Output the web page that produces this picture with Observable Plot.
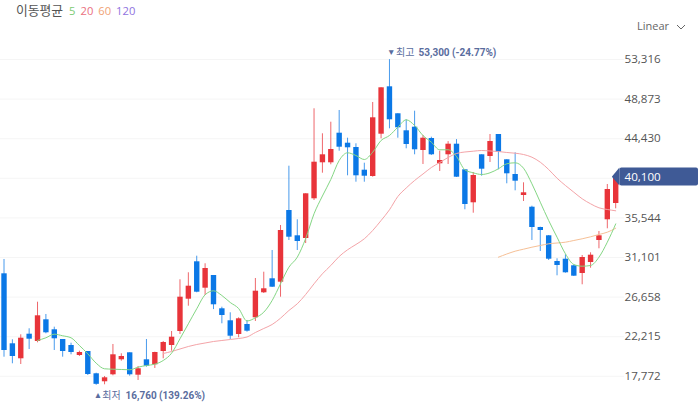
<!DOCTYPE html>
<html><head><meta charset="utf-8">
<script src="https://cdn.jsdelivr.net/npm/d3@7"></script>
<script src="https://cdn.jsdelivr.net/npm/@observablehq/plot@0.6"></script>
<style>
html,body{margin:0;padding:0;background:#fff;overflow:hidden}
#wrap{position:relative;width:700px;height:407px}
#legend{position:absolute;left:16px;top:1px;font:11.2px/18px "Open Sans",sans-serif;white-space:nowrap}
#legend b{font:400 12.8px/18px "Noto Sans CJK KR",sans-serif;letter-spacing:0;color:#555;margin-right:6px}
#legend span{margin-right:5px}
#scale{position:absolute;left:637px;top:17px;font:11px/18px "Open Sans",sans-serif;color:#666}
#scale svg{position:absolute;left:39px;top:7px}
</style></head><body>
<div id="wrap">
<div id="legend"><b>이동평균</b></div>
<div id="scale">Linear<svg width="10" height="6" viewBox="0 0 10 6"><path d="M1 1L5 5L9 1" fill="none" stroke="#666" stroke-width="1"/></svg></div>
</div>
<script>
const open = [29271,21418,19735,22495,21676,24110,22989,21900,21227,20105,20554,18052,17155,17939,19623,20408,17895,19623,19062,20554,21227,22798,26422,30618,27656,29081,25345,23999,22461,23583,24335,27140,28711,28329,36374,33535,33232,37687,41726,41726,45047,43925,43443,40895,40189,44935,50253,47226,45316,45720,43106,44452,41614,42624,43813,40940,37238,42624,42433,44901,42062,40413,38057,36744,34467,33535,30652,30910,30170,29305,30540,33008,35331,37159];
const close = [20666,19993,22046,21934,24559,22652,21979,20554,20442,20442,17973,16870,17603,20183,19993,17939,18614,18905,20442,21564,22158,26646,27880,27207,29867,25794,24593,22271,24223,22832,27319,27589,27768,34130,33378,32896,38248,41793,42623,43218,43476,43409,40267,40222,46775,50141,46550,45653,43779,43185,44486,42624,41984,43813,40110,37047,40301,41008,44116,42915,40492,39661,38360,34467,34130,30910,30203,29384,29003,31101,31359,33535,38730,40100];
const high = [30876,21867,22428,23101,26085,24705,23280,21900,21485,20587,20554,18119,17749,21339,20296,20408,18872,21900,20475,21676,22798,28599,29384,31246,30394,29081,25524,24896,24335,24032,28744,29451,31886,34691,41344,35331,38248,47785,44980,46281,47594,44486,43858,41680,48492,50141,53300,47226,46550,47515,44789,44598,43027,44105,44330,40940,40638,42624,44901,44901,42062,42848,39482,36856,34501,33569,30955,31404,30237,31325,31628,34018,39291,40100];
const low = [19914,19174,19095,20778,21530,22540,20666,19914,20184,19993,17861,16760,16819,17827,19466,17782,17300,18793,18647,19735,20587,22461,25636,27140,26837,25254,23662,21900,22091,22720,23920,27061,27734,26646,33008,31886,32671,37496,40559,41502,43027,40267,39549,39549,40110,44419,45540,44486,43297,42624,41536,42545,40750,41536,40077,36453,36071,40222,41760,40940,39370,38584,37384,33008,31774,30764,29047,29339,28969,28038,29900,32077,34321,36565];
const ma5Start = 4;
const ma5 = [21788,22091,22495,22316,22091,21227,20296,19242,18614,18569,18535,18502,18794,18984,19129,19544,20363,21979,23662,25345,26916,27364,26837,26052,25378,23976,24335,24963,26276,28150,30012,31134,33232,36004,38001,39852,41985,42848,42545,42096,42915,44228,44789,45720,46550,45911,44789,44037,43185,43185,42433,40940,40604,40413,40604,41053,41614,41726,41120,39370,37305,35251,33378,31516,30316,30125,30203,31134,32817,34870];
const ma20Start = 19;
const ma20 = [20329,20554,20835,21115,21339,21508,21676,21788,21900,22013,22181,22686,23135,23584,24290,25154,25905,26949,28150,29272,30203,31213,31965,32559,33199,34130,35251,36452,37945,38899,39740,40469,41198,41760,42321,42770,42938,43027,43106,43050,42994,42882,42803,42657,42354,41793,40974,39998,39179,38427,37687,37126,36677,36486,36340];
const ma60Start = 59;
const ma60 = [31134,31493,31807,32032,32256,32447,32637,32727,32817,33008,33199,33423,33681,33939,34388];
const axisTicks = [53316,48873,44430,35544,31101,26658,22215,17772];
const gridTicks = [53316,48873,44430,39987,35544,31101,26658,22215,17772];
const lastPrice = 40100;
const legendItems = [["5","#7ccb74"],["20","#ea6f80"],["60","#f0a276"],["120","#8f72e0"]];
const hiIdx = 46, hiVal = 53300, hiText = "53,300 (-24.77%)", hiWord = "최고";
const loIdx = 11, loVal = 16760, loText = "16,760 (139.26%)", loWord = "최저";

const RED = "#e8343a", BLUE = "#0b78e6", ANNO = "#5a6d9e", TAG = "#3f5a96";
const rows = open.map((o,i)=>({i,open:o,close:close[i],high:high[i],low:low[i]}));
const up = rows.filter(d=>d.close>d.open), down = rows.filter(d=>d.close<=d.open);
const series = (a,s)=>a.map((v,k)=>({i:k+s,v}));
const tip = [{x:72.6,y1:lastPrice,y2:lastPrice},{x:73.5,y1:39130,y2:41130}];

const legend = document.getElementById("legend");
legendItems.forEach(([t,c])=>{const s=document.createElement("span");s.textContent=t;s.style.color=c;legend.appendChild(s)});

const chart = Plot.plot({
  width:700,height:407,marginLeft:0,marginRight:76,marginTop:0,marginBottom:0,
  style:{background:"#fff",fontFamily:'"Open Sans",sans-serif'},
  x:{type:"linear",domain:[-0.418,74.05],axis:null},
  y:{type:"linear",domain:[14270,59936],grid:false,label:null},
  marks:[
    Plot.ruleY(gridTicks,{stroke:"#f5f5f5",strokeWidth:1}),
    Plot.axisY(axisTicks,{anchor:"right",tickSize:0,tickPadding:0,textAnchor:"start",tickFormat:d3.format(","),label:null,fill:"#555",fontSize:11.6}),
    Plot.ruleX(up,{x:"i",y1:"low",y2:"high",stroke:RED,strokeWidth:1,strokeOpacity:.75}),
    Plot.ruleX(down,{x:"i",y1:"low",y2:"high",stroke:BLUE,strokeWidth:1,strokeOpacity:.75}),
    Plot.ruleX(up,{x:"i",y1:"open",y2:"close",stroke:RED,strokeWidth:5.4}),
    Plot.ruleX(down,{x:"i",y1:"open",y2:"close",stroke:BLUE,strokeWidth:5.4}),
    Plot.line(series(ma60,ma60Start),{x:"i",y:"v",stroke:"#f6c096",strokeWidth:1,curve:"monotone-x"}),
    Plot.line(series(ma20,ma20Start),{x:"i",y:"v",stroke:"#f4a4a8",strokeWidth:1,curve:"monotone-x"}),
    Plot.line(series(ma5,ma5Start),{x:"i",y:"v",stroke:"#84d684",strokeWidth:1,curve:"monotone-x"}),
    Plot.area(tip,{x1:"x",y1:"y1",y2:"y2",fill:TAG,curve:"linear"}),
    Plot.rect([{x1:73.5,x2:82.88,y1:39130,y2:41130}],{x1:"x1",x2:"x2",y1:"y1",y2:"y2",fill:TAG,r:2}),
    Plot.text([lastPrice],{x:74.05,y:d=>d,text:d=>d3.format(",")(d),textAnchor:"start",fill:"#fff",fontSize:11.6}),
    Plot.text([{x:hiIdx,y:hiVal}],{x:"x",y:"y",text:()=>"▼",dx:-2.5,dy:-7,textAnchor:"start",fill:ANNO,fontSize:8.5}),
    Plot.text([{x:hiIdx,y:hiVal}],{x:"x",y:"y",text:()=>hiWord,dx:6.5,dy:-7,textAnchor:"start",fill:ANNO,fontSize:10,fontFamily:'"Noto Sans CJK KR",sans-serif'}),
    Plot.text([{x:hiIdx,y:hiVal}],{x:"x",y:"y",text:()=>hiText,dx:29,dy:-7,textAnchor:"start",fill:ANNO,fontSize:10,fontWeight:700,fontFamily:'Roboto,sans-serif'}),
    Plot.text([{x:loIdx,y:loVal}],{x:"x",y:"y",text:()=>"▲",dx:-2.5,dy:10,textAnchor:"start",fill:ANNO,fontSize:8.5}),
    Plot.text([{x:loIdx,y:loVal}],{x:"x",y:"y",text:()=>loWord,dx:6,dy:10,textAnchor:"start",fill:ANNO,fontSize:10,fontFamily:'"Noto Sans CJK KR",sans-serif'}),
    Plot.text([{x:loIdx,y:loVal}],{x:"x",y:"y",text:()=>loText,dx:29.3,dy:10,textAnchor:"start",fill:ANNO,fontSize:10,fontWeight:700,fontFamily:'Roboto,sans-serif'})
  ]
});
document.getElementById("wrap").prepend(chart);
</script>
</body></html>
